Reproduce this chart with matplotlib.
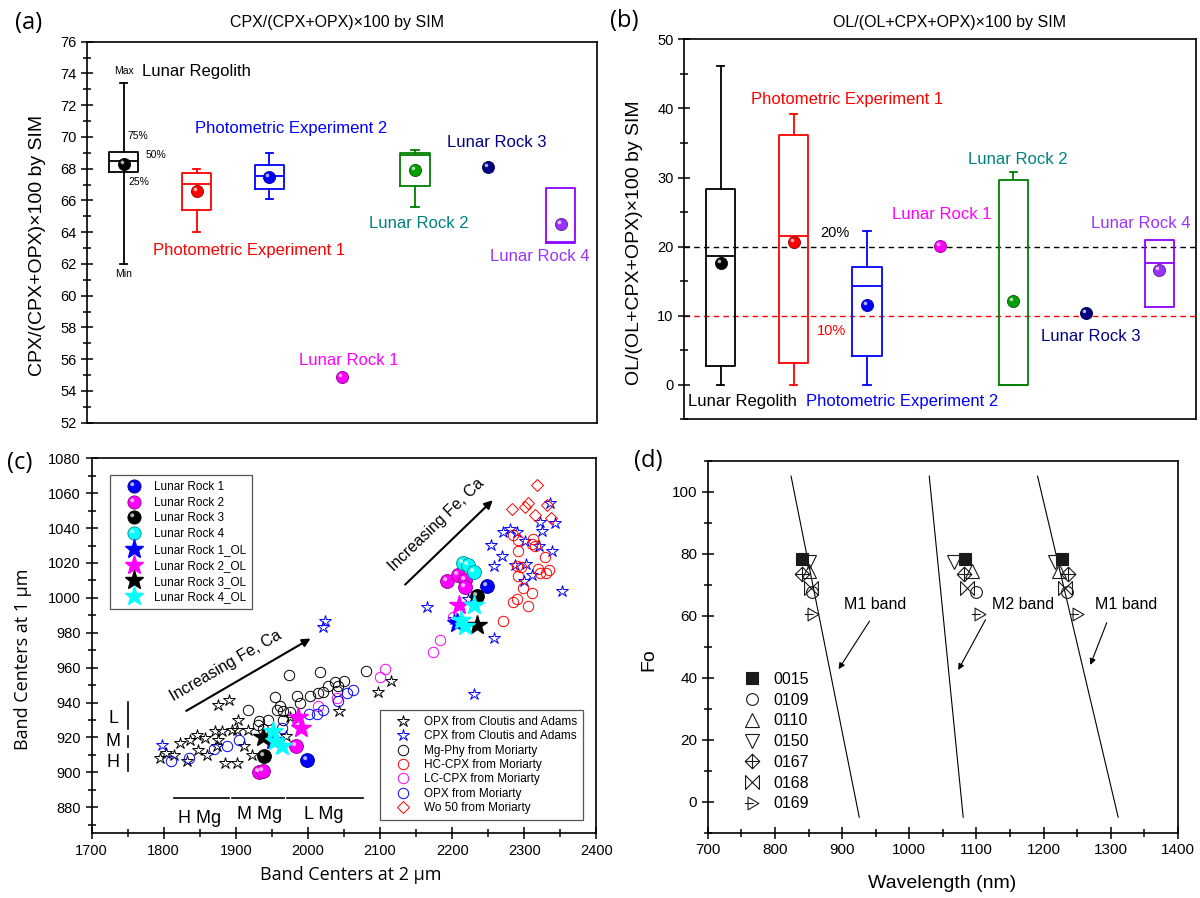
import numpy as np
import matplotlib
matplotlib.use('Agg')
import matplotlib.pyplot as plt
import matplotlib.colors as mcolors
from matplotlib.path import Path
from matplotlib.lines import Line2D
from matplotlib.ticker import MultipleLocator

plt.rcParams['font.family'] = ['Liberation Sans', 'DejaVu Sans']

# ---------------- data ----------------
groups = ['Lunar Regolith', 'Photometric Experiment 1', 'Photometric Experiment 2',
          'Lunar Rock 1', 'Lunar Rock 2', 'Lunar Rock 3', 'Lunar Rock 4']
box_colors = ['black', '#FF0000', '#0000FF', '#FF00FF', '#008000', '#000080', '#8F00FF']
dot_colors = ['black', '#FF0000', '#0000FF', '#FF00FF', '#00A000', '#000080', '#9933FF']
text_colors = ['black', '#FF0000', '#0000FF', '#FF00FF', '#008080', '#000080', '#9933FF']

# (a) CPX/(CPX+OPX)x100 : whisker low, q1, median, q3, whisker high, mean
cpx_lo = [62.0, 64.0, 66.1, None, 65.6, None, None]
cpx_q1 = [67.8, 65.4, 66.75, None, 66.9, None, 63.3]
cpx_med = [68.5, 67.05, 67.55, None, 68.85, None, 63.4]
cpx_q3 = [69.07, 67.7, 68.25, None, 68.96, None, 66.8]
cpx_hi = [73.4, 68.0, 69.0, None, 69.2, None, None]
cpx_mean = [68.3, 66.6, 67.5, 54.9, 67.9, 68.1, 64.5]

# (b) OL/(OL+CPX+OPX)x100
ol_lo = [0.0, 0.0, 0.0, None, 0.0, None, None]
ol_q1 = [2.8, 3.1, 4.25, None, 0.0, None, 11.2]
ol_med = [18.7, 21.6, 14.3, None, 0.0, None, 17.65]
ol_q3 = [28.3, 36.2, 17.1, None, 29.65, None, 20.9]
ol_hi = [46.2, 39.15, 22.2, None, 30.8, None, None]
ol_mean = [17.65, 20.7, 11.5, 20.1, 12.15, 10.4, 16.6]
ol_levels = [20, 10]

# (c) band centres (2 um band, 1 um band)
opx_ca_x = [1795, 1803.4, 1814.8, 1822.7, 1832, 1836.6, 1845.8, 1848.1, 1859.7, 1857.4, 1871.2,
            1875.8, 1875.8, 1873.6, 1891, 1885.1, 1894.4, 1901.3, 1902.2, 1903.5, 1911.4, 1917.4,
            1922.1, 1969.7, 1975.2, 2043.6, 2097.7, 2114.8, 1880.5]
opx_ca_y = [908.3, 911.1, 910.2, 916.9, 906.3, 918.8, 921.6, 913.0, 910.2, 919.7, 923.5,
            938.8, 918.8, 914.9, 941.6, 905.4, 924.5, 905.4, 924.5, 930.2, 915.3, 924.1,
            910.2, 920.7, 931.7, 934.9, 945.8, 952.1, 923.5]
cpx_ca_x = [1798, 2021, 2023, 2164.7, 2253.5, 2268.7, 2258.5, 2270.1, 2280.3, 2290.4, 2301,
            2287.2, 2302.4, 2310.4, 2299.7, 2319.9, 2321.3, 2324.6, 2336.1, 2343.1, 2338.1,
            2351.9, 2258.1, 2222, 2230, 2203]
cpx_ca_y = [915.6, 983.4, 987, 994.5, 1030.4, 1024.1, 1018.4, 1038, 1039.4, 1038, 1032.7,
            1018.9, 1019.3, 1013.2, 1009.4, 1029.8, 1043.7, 1038.6, 1054.6, 1043.1, 1027.1,
            1004.2, 977, 999.5, 944.8, 988]
mgphy_x = [1917.4, 1931.3, 1945.2, 1954.5, 1973.9, 1961.4, 1965.1, 1966, 1975.2, 1984.5, 1989.1,
           2003, 2016.8, 2014.5, 2021.4, 2028.3, 2037.6, 2040, 2050.1, 2080.6, 1938.2, 2042.2,
           1956.8, 1932]
mgphy_y = [935.5, 927.3, 930.2, 943.2, 955.6, 938.2, 935, 930.2, 934.4, 943.5, 939.8,
           943.5, 957.3, 945.5, 945.8, 949.3, 951.6, 946.4, 952.1, 957.9, 924.9, 949.3,
           935.9, 929.5]
hccpx_x = [2270.1, 2284, 2290.4, 2305.7, 2310.4, 2298.7, 2291.8, 2295.1, 2291.8, 2284.9, 2291.8,
           2310.4, 2314.9, 2312.6, 2318.7, 2321.9, 2330.2, 2328.8, 2334.8, 2290.4]
hccpx_y = [986.5, 997.9, 999.3, 995.5, 1002.7, 1005.6, 1012.6, 1017.6, 1027.1, 1036.1, 1033.2,
           1030.9, 1029.8, 1033.6, 1016.5, 1014.2, 1014.5, 1023.3, 1016.1, 1018.4]
lccpx_x = [2013.6, 2040.9, 2100, 2107, 2183.2, 2173.9, 2201.7]
lccpx_y = [937.8, 942.6, 954.4, 959.2, 976, 968.7, 989.3]
opx_m_x = [1810.2, 1835.6, 1870.3, 1887.5, 1905, 1963.7, 2002, 2012.3, 2021.4, 2042.2, 2054.7, 2063]
opx_m_y = [906.3, 908.3, 913.4, 915.3, 918.4, 925.5, 933.6, 933.6, 935.9, 940.7, 945.5, 947.4]
wo50_x = [2317.3, 2282.6, 2301, 2305.7, 2315, 2331.2, 2336.8]
wo50_y = [1064.7, 1050.8, 1052.3, 1054.2, 1047.5, 1053.3, 1045.6]

rock_names = ['Lunar Rock 1', 'Lunar Rock 2', 'Lunar Rock 3', 'Lunar Rock 4']
rock_colors = ['#0000FF', '#FF00FF', 'black', '#00FFFF']
rock_x = [[1998.4, 2248.8],
          [1932.7, 1938.2, 1983.5, 2192.4, 2208.5, 2217.8, 2217.8],
          [1939.2, 2234.9],
          [2215.6, 2222.5, 2230.4]]
rock_y = [[907.3, 1006.9],
          [900.0, 900.6, 915.3, 1009.4, 1013.2, 1010.3, 1006.2],
          [909.2, 1001.2],
          [1019.9, 1018.9, 1015.1]]
rock_ol_x = [[1951.2, 2206.3],
             [1986.8, 1990.0, 2210.0],
             [1938.2, 2234.9],
             [1952.1, 1963.7, 1954.5, 2212.0, 2217.9, 2229.7]]
rock_ol_y = [[918.8, 985.5],
             [931.7, 925.4, 996.0],
             [920.3, 984.6],
             [923.5, 915.3, 917.8, 987.4, 983.6, 996.0]]

# (d) Fo vs band position
sample_ids = ['0015', '0109', '0110', '0150', '0167', '0168', '0169']
fo_values = [78.3, 67.5, 74.3, 77.2, 73.6, 69.0, 60.4]
m1_short_nm = [840, 855, 851.4, 851.4, 840, 854, 855.4]
m2_nm = [1082.3, 1099.4, 1092.6, 1066.9, 1081.1, 1085.7, 1104]
m1_long_nm = [1226.9, 1234.3, 1222.9, 1217.1, 1236.6, 1231.4, 1249.7]
band_top_nm = [824, 1029.7, 1190.9]
band_bottom_nm = [925.5, 1080.2, 1310.9]
band_fo_ends = [105, -5]
band_names = ['M1 band', 'M2 band', 'M1 band']


# ---------------- helpers ----------------
def mix(c, other, t):
    a = np.array(mcolors.to_rgb(c))
    b = np.array(mcolors.to_rgb(other))
    return tuple(a * (1 - t) + b * t)


_c = Path.circle((-0.17, 0.17), 0.15)
GLINT = Path(np.vstack([[[-0.5, -0.5], [0.5, 0.5]], _c.vertices]),
             np.concatenate([[Path.MOVETO, Path.MOVETO], _c.codes]))


def spheres(ax, x, y, c, ms, z=4):
    ax.plot(x, y, ls='none', marker='o', ms=ms, mfc=c, mec=mix(c, 'black', 0.45),
            mew=0.6, zorder=z)
    ax.plot(x, y, ls='none', marker=GLINT, ms=ms, mfc=mix(c, 'white', 0.7),
            mec='none', zorder=z + 0.01)


def sphere_handle(c, ms):
    return (Line2D([], [], ls='none', marker='o', ms=ms, mfc=c, mec=mix(c, 'black', 0.45), mew=0.6),
            Line2D([], [], ls='none', marker=GLINT, ms=ms, mfc=mix(c, 'white', 0.7), mec='none'))


def frame(ax, size=10.5):
    for s in ax.spines.values():
        s.set_linewidth(1.2)
    ax.tick_params(which='both', direction='inout', width=1.1, top=False, right=False,
                   labelsize=size, pad=3)
    ax.tick_params(which='major', length=9)
    ax.tick_params(which='minor', length=5.5)


def boxes(ax, lo, q1, med, q3, hi):
    for i in range(len(groups)):
        if q1[i] is None:
            continue
        whis = lo[i] is not None
        st = dict(med=med[i], q1=q1[i], q3=q3[i],
                  whislo=lo[i] if whis else q1[i],
                  whishi=hi[i] if whis else q3[i], fliers=[])
        c = box_colors[i]
        ax.bxp([st], positions=[i + 1], widths=0.4, capwidths=0.1, showcaps=whis,
               manage_ticks=False,
               boxprops=dict(color=c, lw=1.3), medianprops=dict(color=c, lw=1.3),
               whiskerprops=dict(color=c, lw=1.3), capprops=dict(color=c, lw=1.3))


fig = plt.figure(figsize=(12, 8.98), dpi=100)

# ---------------- (a) ----------------
axa = fig.add_axes([0.0728, 0.5293, 0.4248, 0.4243])
boxes(axa, cpx_lo, cpx_q1, cpx_med, cpx_q3, cpx_hi)
for i in range(len(groups)):
    spheres(axa, [i + 1], [cpx_mean[i]], dot_colors[i], 8.7)
axa.set_xlim(0.5, 7.5)
axa.set_ylim(52, 76)
axa.yaxis.set_major_locator(MultipleLocator(2))
axa.yaxis.set_minor_locator(MultipleLocator(1))
frame(axa)
axa.tick_params(axis='x', which='both', bottom=False, labelbottom=False)
axa.set_ylabel('CPX/(CPX+OPX)×100 by SIM', fontsize=14, va='center')
axa.yaxis.set_label_coords(-0.097, 0.466)
axa.text(0.49, 1.05, 'CPX/(CPX+OPX)×100 by SIM', transform=axa.transAxes,
         ha='center', va='center', fontsize=11.5)
axa.text(1.01, 74.17, 'Max', fontsize=7.5, ha='center', va='center')
axa.text(1.0, 61.35, 'Min', fontsize=7.5, ha='center', va='center')
axa.text(1.05, 70.05, '75%', fontsize=7.5, ha='left', va='center')
axa.text(1.30, 68.85, '50%', fontsize=7.5, ha='left', va='center')
axa.text(1.06, 67.15, '25%', fontsize=7.5, ha='left', va='center')
a_lab = [(1.25, 74.1), (1.407, 62.83), (1.975, 70.5), (3.40, 55.94),
         (4.37, 64.55), (5.44, 69.63), (6.03, 62.45)]
for i, (tx, ty) in enumerate(a_lab):
    axa.text(tx, ty, groups[i], color=text_colors[i], fontsize=12, ha='left', va='center')

# ---------------- (b) ----------------
axb = fig.add_axes([0.57, 0.5329, 0.4267, 0.4234])
for lvl, c in zip(ol_levels, ['black', '#FF0000']):
    axb.axhline(lvl, color=c, ls=(0, (4, 3)), lw=1.0, zorder=1)
boxes(axb, ol_lo, ol_q1, ol_med, ol_q3, ol_hi)
for i in range(len(groups)):
    spheres(axb, [i + 1], [ol_mean[i]], dot_colors[i], 8.7)
axb.set_xlim(0.5, 7.5)
axb.set_ylim(-5, 50)
axb.yaxis.set_major_locator(MultipleLocator(10))
axb.yaxis.set_minor_locator(MultipleLocator(5))
frame(axb)
axb.tick_params(axis='x', which='both', bottom=False, labelbottom=False)
axb.set_ylabel('OL/(OL+CPX+OPX)×100 by SIM', fontsize=14, va='center')
axb.yaxis.set_label_coords(-0.097, 0.464)
axb.text(0.518, 1.044, 'OL/(OL+CPX+OPX)×100 by SIM', transform=axb.transAxes,
         ha='center', va='center', fontsize=11.5)
axb.text(2.36, 21.94, '20%', fontsize=10.5, color='black', ha='left', va='center')
axb.text(2.31, 7.8, '10%', fontsize=10.5, color='#FF0000', ha='left', va='center')
b_lab = [(0.55, -2.41), (1.416, 41.32), (2.17, -2.41), (3.35, 24.59),
         (4.38, 32.64), (5.38, 7.0), (6.06, 23.39)]
for i, (tx, ty) in enumerate(b_lab):
    axb.text(tx, ty, groups[i], color=text_colors[i], fontsize=12, ha='left', va='center')

# ---------------- (c) ----------------
axc = fig.add_axes([0.07625, 0.0720, 0.4208, 0.4176])
axc.set_xlim(1700, 2400)
axc.set_ylim(865, 1080)
ref_style = dict(ls='none', mfc='none', zorder=2)
axc.plot(opx_ca_x, opx_ca_y, marker='*', ms=9, mec='black', mew=0.7, **ref_style)
axc.plot(cpx_ca_x, cpx_ca_y, marker='*', ms=9, mec='#0000FF', mew=0.7, **ref_style)
axc.plot(mgphy_x, mgphy_y, marker='o', ms=7.5, mec='black', mew=0.7, **ref_style)
axc.plot(hccpx_x, hccpx_y, marker='o', ms=7.5, mec='#FF0000', mew=0.7, **ref_style)
axc.plot(lccpx_x, lccpx_y, marker='o', ms=7.5, mec='#FF00FF', mew=0.7, **ref_style)
axc.plot(opx_m_x, opx_m_y, marker='o', ms=7.5, mec='#0000FF', mew=0.7, **ref_style)
axc.plot(wo50_x, wo50_y, marker='D', ms=6.5, mec='#FF0000', mew=0.7, **ref_style)
for k in range(4):
    spheres(axc, rock_x[k], rock_y[k], rock_colors[k], 10, z=4)
for k in range(4):
    axc.plot(rock_ol_x[k], rock_ol_y[k], ls='none', marker='*', ms=15,
             mfc=rock_colors[k], mec=rock_colors[k], zorder=5)

axc.xaxis.set_major_locator(MultipleLocator(100))
axc.xaxis.set_minor_locator(MultipleLocator(50))
axc.yaxis.set_major_locator(MultipleLocator(20))
axc.yaxis.set_minor_locator(MultipleLocator(10))
frame(axc)
axc.set_xlabel('Band Centers at 2 μm', fontsize=13, family=['Open Sans', 'DejaVu Sans'], va='center')
axc.xaxis.set_label_coords(0.514, -0.111)
axc.set_ylabel('Band Centers at 1 μm', fontsize=13, family=['Open Sans', 'DejaVu Sans'], va='center')
axc.yaxis.set_label_coords(-0.136, 0.465)

# trend arrows
for tail, tip, tpos in [((1828, 934.4), (2007, 977.5), (1886, 961)),
                        ((2132, 1006.5), (2259, 1057.1), (2178, 1042))]:
    axc.annotate('', xy=tip, xytext=tail,
                 arrowprops=dict(arrowstyle='-|>', color='black', lw=1.5, mutation_scale=12))
    p = axc.transData.transform([tail, tip])
    ang = np.degrees(np.arctan2(p[1, 1] - p[0, 1], p[1, 0] - p[0, 0]))
    axc.text(tpos[0], tpos[1], 'Increasing Fe, Ca', rotation=ang, rotation_mode='anchor',
             ha='center', va='center', fontsize=11.5)

# Mg classes
for lab, ty, y0, y1 in [('L', 930.6, 924.9, 940.1), ('M', 917.8, 914.6, 920.6), ('H', 905.4, 900.6, 910.7)]:
    axc.text(1730, ty, lab, fontsize=13, ha='center', va='center')
    axc.plot([1751, 1751], [y0, y1], color='black', lw=1.2)
for lab, tx, x0, x1, ty in [('H Mg', 1849.5, 1814.4, 1891.1, 873.5),
                            ('M Mg', 1932.7, 1894.4, 1966.9, 876),
                            ('L Mg', 2021.4, 1970.6, 2076.9, 876)]:
    axc.plot([x0, x1], [885.2, 885.2], color='black', lw=1.2)
    axc.text(tx, ty, lab, fontsize=13, ha='center', va='center')

h1 = [sphere_handle(c, 9.5) for c in rock_colors]
h1 += [Line2D([], [], ls='none', marker='*', ms=14, mfc=c, mec=c) for c in rock_colors]
l1 = rock_names + [n + '_OL' for n in rock_names]
leg1 = axc.legend(h1, l1, loc='upper left', bbox_to_anchor=(0.0366, 0.9555), borderaxespad=0,
                  fontsize=8.5, fancybox=False, edgecolor='#555555', framealpha=1,
                  handlelength=3.0, handletextpad=0.2, labelspacing=0.32, borderpad=0.5)
leg1.get_frame().set_linewidth(0.9)
axc.add_artist(leg1)
h2 = [Line2D([], [], ls='none', marker='*', ms=9, mfc='none', mec='black', mew=0.7),
      Line2D([], [], ls='none', marker='*', ms=9, mfc='none', mec='#0000FF', mew=0.7),
      Line2D([], [], ls='none', marker='o', ms=7.5, mfc='none', mec='black', mew=0.7),
      Line2D([], [], ls='none', marker='o', ms=7.5, mfc='none', mec='#FF0000', mew=0.7),
      Line2D([], [], ls='none', marker='o', ms=7.5, mfc='none', mec='#FF00FF', mew=0.7),
      Line2D([], [], ls='none', marker='o', ms=7.5, mfc='none', mec='#0000FF', mew=0.7),
      Line2D([], [], ls='none', marker='D', ms=6.5, mfc='none', mec='#FF0000', mew=0.7)]
l2 = ['OPX from Cloutis and Adams', 'CPX from Cloutis and Adams', 'Mg-Phy from Moriarty',
      'HC-CPX from Moriarty', 'LC-CPX from Moriarty', 'OPX from Moriarty', 'Wo 50 from Moriarty']
leg2 = axc.legend(h2, l2, loc='lower right', bbox_to_anchor=(0.9725, 0.0355), borderaxespad=0,
                  fontsize=8.5, fancybox=False, edgecolor='#555555', framealpha=1,
                  handlelength=3.0, handletextpad=0.2, labelspacing=0.2, borderpad=0.5)
leg2.get_frame().set_linewidth(0.9)

# ---------------- (d) ----------------
axd = fig.add_axes([0.5898, 0.0727, 0.3919, 0.4143])
axd.set_xlim(700, 1400)
axd.set_ylim(-10, 110)
for x0, x1 in zip(band_top_nm, band_bottom_nm):
    axd.plot([x0, x1], band_fo_ends, color='black', lw=0.8)

M, L, C = Path.MOVETO, Path.LINETO, Path.CLOSEPOLY
diamond_plus = Path([(0, 1), (1, 0), (0, -1), (-1, 0), (0, 1), (0, 1), (0, -1), (-1, 0), (1, 0)],
                    [M, L, L, L, C, M, L, M, L])
bowtie_x = Path([(-1, -1), (1, 1), (-1, 1), (1, -1), (-1, -1), (-1, 1), (1, -1), (1, 1)],
                [M, L, M, L, M, L, M, L])
tri_plus = Path([(-0.7, -1), (1, 0), (-0.7, 1), (-0.7, -1), (-1.2, 0), (0.2, 0)],
                [M, L, L, C, M, L])
d_markers = ['s', 'o', '^', 'v', diamond_plus, bowtie_x, tri_plus]
d_sizes = [8.5, 8.5, 10, 10, 10.5, 10, 11]
ec = '#1a1a1a'
handles_d = []
for j in range(len(sample_ids)):
    filled = j == 0
    kw = dict(ls='none', marker=d_markers[j], ms=d_sizes[j], mec=ec, mew=0.8,
              mfc=ec if filled else 'none')
    axd.plot([m1_short_nm[j], m2_nm[j], m1_long_nm[j]], [fo_values[j]] * 3, zorder=3, **kw)
    handles_d.append(Line2D([], [], **kw))

for lab, tx, tail, tip in zip(band_names, [948.6, 1169.7, 1322.9],
                              [(943, 59.0), (1115.4, 59.5), (1295.4, 58.6)],
                              [(892.6, 42.0), (1070.9, 41.7), (1268, 43.3)]):
    axd.text(tx, 63.6, lab, fontsize=11.5, ha='center', va='center')
    axd.annotate('', xy=tip, xytext=tail,
                 arrowprops=dict(arrowstyle='-|>', color='black', lw=0.8, mutation_scale=9))

axd.xaxis.set_major_locator(MultipleLocator(100))
axd.xaxis.set_minor_locator(MultipleLocator(50))
axd.yaxis.set_major_locator(MultipleLocator(20))
axd.yaxis.set_minor_locator(MultipleLocator(10))
frame(axd, 11)
axd.set_xlabel('Wavelength (nm)', fontsize=14, va='center')
axd.xaxis.set_label_coords(0.499, -0.136)
axd.set_ylabel('Fo', fontsize=14, va='center')
axd.yaxis.set_label_coords(-0.125, 0.464)
axd.legend(handles_d, sample_ids, loc='lower left', bbox_to_anchor=(0.063, 0.04),
           borderaxespad=0, frameon=False, fontsize=11.5, handlelength=1.0,
           handletextpad=0.85, labelspacing=0.36, borderpad=0.4)

# panel letters
for lab, fx, fy in [('(a)', 0.0239, 0.9747), ('(b)', 0.5198, 0.9766),
                    ('(c)', 0.0167, 0.4844), ('(d)', 0.54, 0.4867)]:
    fig.text(fx, fy, lab, fontsize=17, family=['Open Sans', 'DejaVu Sans'],
             ha='center', va='center')

fig.savefig('out.png', dpi=100)
